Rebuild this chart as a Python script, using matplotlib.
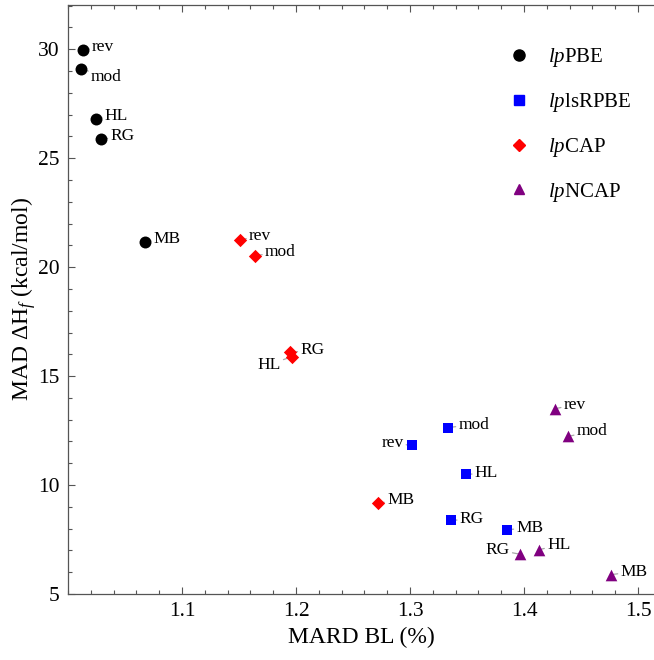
import matplotlib
matplotlib.use("Agg")
import matplotlib.pyplot as plt
from matplotlib.lines import Line2D
from matplotlib.ticker import MultipleLocator

plt.rcParams['font.family'] = ['Liberation Serif', 'DejaVu Serif']
plt.rcParams['mathtext.fontset'] = 'custom'
plt.rcParams['mathtext.rm'] = 'Liberation Serif'
plt.rcParams['mathtext.it'] = 'Liberation Serif:italic'

# point names, same order for every series
names = ["rev", "mod", "HL", "RG", "MB"]

pbe_x = [1.0132, 1.0114, 1.0243, 1.0293, 1.0673]
pbe_y = [29.97, 29.10, 26.82, 25.87, 21.17]

lsrpbe_x = [1.3021, 1.3337, 1.3489, 1.3357, 1.3854]
lsrpbe_y = [11.82, 12.64, 10.49, 8.38, 7.95]

cap_x = [1.1509, 1.1640, 1.1962, 1.1950, 1.2719]
cap_y = [21.25, 20.52, 15.89, 16.09, 9.17]

ncap_x = [1.4269, 1.4383, 1.4132, 1.3962, 1.4767]
ncap_y = [13.50, 12.23, 7.03, 6.83, 5.89]

# label offsets in pixels (dx, dy up), same order as names
pbe_off = [(9, 3), (10, -8), (9, 3), (9, 3), (9, 3)]
lsrpbe_off = [(-9, 2), (10, 3), (9, 1), (9, 1), (9, 2)]
cap_off = [(9, 4), (10, 4), (-11, -8), (10, 2), (9, 3)]
ncap_off = [(9, 4), (9, 5), (8, 5), (-10, 4), (9, 3)]

fig = plt.figure(figsize=(6.54, 6.6), dpi=100)
ax = fig.add_axes([68/654, 66/660, 586/654, 589/660])

series = [
    (pbe_x, pbe_y, pbe_off, 'o', 'black', 74, r"$lp$PBE"),
    (lsrpbe_x, lsrpbe_y, lsrpbe_off, 's', 'blue', 52, r"$lp$lsRPBE"),
    (cap_x, cap_y, cap_off, 'D', 'red', 46, r"$lp$CAP"),
    (ncap_x, ncap_y, ncap_off, '^', 'purple', 70, r"$lp$NCAP"),
]

for xs, ys, offs, mk, col, sz, lab in series:
    ax.scatter(xs, ys, marker=mk, s=sz, color=col, zorder=4, linewidths=0)
    for n, x, y, (dx, dy) in zip(names, xs, ys, offs):
        ax.annotate(n, (x, y), xytext=(dx * 0.72, dy * 0.72), textcoords='offset points',
                    ha='left' if dx > 0 else 'right', va='center', fontsize=12.5,
                    arrowprops=dict(arrowstyle='-', color='0.65', lw=0.9, shrinkA=0, shrinkB=0),
                    zorder=3)

# legend (order as in the picture)
handles = [
    Line2D([], [], ls='none', marker='o', color='black', markersize=8),
    Line2D([], [], ls='none', marker='s', color='blue', markersize=6.5),
    Line2D([], [], ls='none', marker='D', color='red', markersize=6),
    Line2D([], [], ls='none', marker='^', color='purple', markersize=7.5),
]
leg_labels = [s[6] for s in series]
ax.legend(handles, leg_labels, loc='upper left', bbox_to_anchor=(0.72, 0.962), frameon=False,
          fontsize=15, handlelength=1.0, handletextpad=0.9, labelspacing=1.05)

ax.set_xlim(1.0, 1.514)
ax.set_ylim(5, 32.03)
ax.xaxis.set_major_locator(MultipleLocator(0.1))
ax.xaxis.set_minor_locator(MultipleLocator(0.02))
ax.yaxis.set_major_locator(MultipleLocator(5))
ax.yaxis.set_minor_locator(MultipleLocator(1))
ax.set_xticks([1.1, 1.2, 1.3, 1.4, 1.5])
ax.set_xticklabels(["1.1", "1.2", "1.3", "1.4", "1.5"])

ax.tick_params(which='both', direction='in', top=True, right=False, colors='#555555',
               labelcolor='black', labelsize=15.5, width=0.8)
ax.tick_params(which='major', length=5, pad=6)
ax.tick_params(which='minor', length=3)
ax.spines['right'].set_visible(False)
for s in ['left', 'bottom', 'top']:
    ax.spines[s].set_color('#555555')
    ax.spines[s].set_linewidth(0.9)

ax.set_xlabel("MARD BL (%)", fontsize=17, labelpad=4)
ax.set_ylabel(r"MAD ΔH$_f$ (kcal/mol)", fontsize=17, labelpad=0)

fig.savefig("out.png", dpi=100)
